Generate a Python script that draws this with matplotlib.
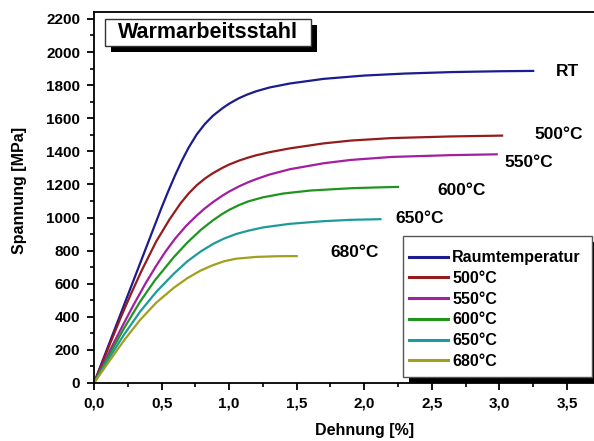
import matplotlib
matplotlib.use("Agg")
import matplotlib.pyplot as plt
from matplotlib.patches import Rectangle
from matplotlib.ticker import MultipleLocator, FuncFormatter

plt.rcParams['font.family'] = ['Liberation Sans', 'DejaVu Sans']
plt.rcParams['font.weight'] = 'bold'

# Dehnung [%] / Spannung [MPa]
rt_x = [0, 0.1, 0.2, 0.3, 0.4, 0.5, 0.55, 0.6, 0.65, 0.7, 0.76, 0.82, 0.88, 0.95, 1.0,
        1.07, 1.13, 1.2, 1.3, 1.45, 1.7, 2.0, 2.3, 2.65, 3.0, 3.25]
rt_y = [0, 212, 424, 636, 848, 1060, 1160, 1255, 1343, 1422, 1502, 1565, 1615, 1660, 1688,
        1720, 1742, 1763, 1786, 1810, 1838, 1858, 1870, 1879, 1884, 1886]

t500_x = [0, 0.1, 0.2, 0.28, 0.35, 0.46, 0.56, 0.64, 0.7, 0.76, 0.82, 0.88, 0.95, 1.0,
          1.07, 1.14, 1.2, 1.3, 1.45, 1.7, 1.9, 2.2, 2.64, 3.02]
t500_y = [0, 200, 400, 550, 675, 855, 990, 1085, 1145, 1195, 1235, 1268, 1300, 1320,
          1343, 1362, 1376, 1395, 1418, 1448, 1465, 1480, 1490, 1495]

t550_x = [0, 0.12, 0.2, 0.29, 0.38, 0.46, 0.53, 0.6, 0.68, 0.76, 0.82, 0.88, 0.95, 1.0,
          1.07, 1.14, 1.2, 1.3, 1.45, 1.7, 1.9, 2.2, 2.64, 2.98]
t550_y = [0, 200, 328, 468, 600, 708, 795, 872, 948, 1012, 1055, 1093, 1132, 1157,
          1187, 1213, 1232, 1260, 1292, 1328, 1348, 1366, 1377, 1382]

t600_x = [0, 0.12, 0.22, 0.34, 0.45, 0.59, 0.69, 0.79, 0.88, 0.95, 1.0, 1.07, 1.14, 1.25,
          1.4, 1.6, 1.9, 2.1, 2.25]
t600_y = [0, 180, 328, 490, 620, 760, 848, 925, 983, 1022, 1046, 1074, 1097, 1122,
          1145, 1163, 1177, 1182, 1185]

t650_x = [0, 0.12, 0.22, 0.34, 0.46, 0.59, 0.69, 0.79, 0.88, 0.96, 1.05, 1.14, 1.25, 1.45,
          1.7, 1.9, 2.12]
t650_y = [0, 160, 290, 430, 550, 660, 735, 795, 840, 872, 900, 920, 940, 962,
          978, 986, 990]

t680_x = [0, 0.12, 0.22, 0.34, 0.46, 0.59, 0.69, 0.79, 0.88, 0.96, 1.05, 1.2, 1.35, 1.5]
t680_y = [0, 140, 255, 380, 485, 575, 633, 680, 712, 735, 751, 762, 766, 767]

series = [
    ("Raumtemperatur", rt_x, rt_y, "#1c1c8e"),
    ("500°C", t500_x, t500_y, "#951c1c"),
    ("550°C", t550_x, t550_y, "#a21ea2"),
    ("600°C", t600_x, t600_y, "#1f951f"),
    ("650°C", t650_x, t650_y, "#1e9a9a"),
    ("680°C", t680_x, t680_y, "#a0a01e"),
]

curve_labels = ["RT", "500°C", "550°C", "600°C", "650°C", "680°C"]

W, H = 594, 441
fig = plt.figure(figsize=(W / 100, H / 100), dpi=100)
ax = fig.add_axes([94 / W, 1 - 383 / H, 1 - 94 / W, (383 - 12) / H])

for name, xs, ys, col in series:
    ax.plot(xs, ys, color=col, lw=1.6, label=name, solid_joinstyle='round')

# curve labels (left edge x, centre y in data units)
label_pos = [(3.415, 1885), (3.26, 1500), (3.04, 1335), (2.54, 1162), (2.23, 992), (1.75, 791)]
for txt, (lx, ly) in zip(curve_labels, label_pos):
    ax.text(lx, ly, txt, fontsize=12.5, fontweight='bold', ha='left', va='center')

ax.set_xlim(0, 3.70)
ax.set_ylim(0, 2242)
ax.xaxis.set_major_locator(MultipleLocator(0.5))
ax.xaxis.set_minor_locator(MultipleLocator(0.25))
ax.yaxis.set_major_locator(MultipleLocator(200))
ax.yaxis.set_minor_locator(MultipleLocator(100))
ax.xaxis.set_major_formatter(FuncFormatter(lambda v, p: f"{v:.1f}".replace('.', ',')))
ax.tick_params(which='major', direction='out', length=5, width=1.3, labelsize=11, pad=5)
ax.tick_params(which='minor', direction='out', length=3, width=1.2)
for lab in ax.get_xticklabels() + ax.get_yticklabels():
    lab.set_fontweight('bold')

ax.spines['right'].set_visible(False)
for s in ['left', 'bottom', 'top']:
    ax.spines[s].set_linewidth(1.3)

ax.set_xlabel("Dehnung [%]", fontsize=11.5, fontweight='bold')
ax.set_ylabel("Spannung [MPa]", fontsize=11.5, fontweight='bold')
ax.xaxis.set_label_coords(0.542, -0.108)
ax.yaxis.set_label_coords(-0.134, 0.52)


def px_rect(x0, y0, x1, y1, **kw):
    r = Rectangle((x0 / W, 1 - y1 / H), (x1 - x0) / W, (y1 - y0) / H,
                  transform=fig.transFigure, **kw)
    fig.add_artist(r)
    return r


# title box with shadow
px_rect(111, 25, 317, 52, facecolor='black', edgecolor='none', zorder=6)
px_rect(105, 19, 311, 46, facecolor='white', edgecolor='#333333', lw=1.0, zorder=7)
fig.text(208 / W, 1 - 33 / H, "Warmarbeitsstahl", fontsize=15.5, fontweight='bold',
         ha='center', va='center', zorder=8)

# legend box with shadow
px_rect(409, 242, 598, 383, facecolor='black', edgecolor='none', zorder=6)
px_rect(403, 236, 592, 377, facecolor='white', edgecolor='#555555', lw=1.0, zorder=7)
leg = ax.legend(loc='upper left', bbox_to_anchor=(406 / W, 1 - 247 / H),
                bbox_transform=fig.transFigure, frameon=False,
                prop={'size': 11.5, 'weight': 'bold'}, handlelength=2.4,
                handletextpad=0.3, labelspacing=0.36, borderpad=0.2,
                borderaxespad=0)
leg.set_zorder(9)
for line in leg.get_lines():
    line.set_linewidth(2.2)
fig.add_artist(leg)

fig.savefig("out.png", dpi=100)
